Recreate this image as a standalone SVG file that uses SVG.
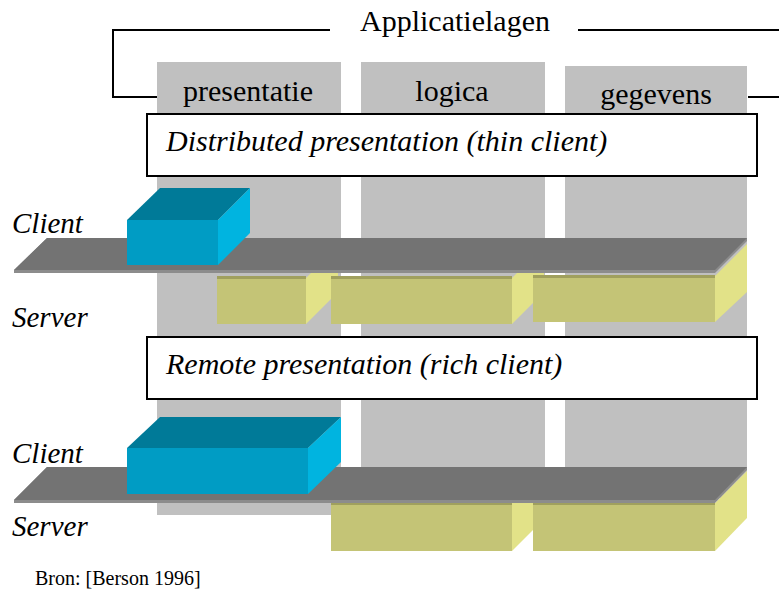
<svg xmlns="http://www.w3.org/2000/svg" width="779" height="593" viewBox="0 0 779 593">
<defs>
<style>
.col{fill:#c0c0c0}
.lbl{font-family:"Liberation Serif","Times New Roman",serif;font-size:30px;fill:#000}
.it{font-family:"Liberation Serif","Times New Roman",serif;font-style:italic;font-size:29px;fill:#000}
.tt{font-size:30px}
.box{fill:#fff;stroke:#000;stroke-width:2}
.line{fill:none;stroke:#000;stroke-width:2}
.plat{fill:#737373}
.platEdge{fill:#8c8c8c}
.cFront{fill:#009cc4}
.cTop{fill:#007a98}
.cSide{fill:#00b4e0}
.sFront{fill:#c4c476}
.sSide{fill:#e2e288}
.sTop{fill:#a0a05e}
</style>
</defs>
<rect width="779" height="593" fill="#fff"/>
<g id="columns">
<rect class="col" x="157" y="62" width="184" height="453"/>
<rect class="col" x="361" y="62" width="184" height="436"/>
<rect class="col" x="565" y="66" width="182" height="432"/>
</g>
<g id="header">
<polyline class="line" points="330,30 113,30 113,97 157,97"/>
<line class="line" x1="578" y1="30" x2="779" y2="30"/>
<line class="line" x1="748" y1="97" x2="779" y2="97"/>
<text class="lbl" x="455" y="31" text-anchor="middle">Applicatielagen</text>
<text class="lbl" x="248" y="101" text-anchor="middle">presentatie</text>
<text class="lbl" x="452" y="101" text-anchor="middle">logica</text>
<text class="lbl" x="656" y="104" text-anchor="middle">gegevens</text>
</g>
<g id="title1">
<rect class="box" x="147" y="114" width="610" height="62"/>
<text class="it tt" x="166" y="151">Distributed presentation (thin client)</text>
</g>
<g id="server1">
<polygon class="sSide" points="306,278 338,246 338,292 306,324"/>
<rect class="sFront" x="217" y="277" width="89" height="47"/>
<rect class="sTop" x="217" y="276" width="89" height="3"/>
<polygon class="sSide" points="512,278 544,246 544,292 512,324"/>
<rect class="sFront" x="331" y="277" width="181" height="47"/>
<rect class="sTop" x="331" y="276" width="181" height="3"/>
<polygon class="sSide" points="715,276 747,244 747,292 715,322"/>
<rect class="sFront" x="533" y="276" width="182" height="46"/>
<rect class="sTop" x="533" y="275" width="182" height="3"/>
</g>
<g id="platform1">
<polygon class="platEdge" points="47,238 747,238 747,241 715,273 14,273 14,270"/>
<polygon class="plat" points="47,238 747,238 715,270 14,270"/>
</g>
<g id="client1">
<polygon class="cTop" points="127,220 160,188 250,188 218,220"/>
<polygon class="cSide" points="218,220 250,188 250,233 218,265"/>
<rect class="cFront" x="127" y="220" width="91" height="45"/>
</g>
<text class="it" x="12" y="233">Client</text>
<text class="it" x="12" y="327">Server</text>
<g id="title2">
<rect class="box" x="147" y="337" width="610" height="62"/>
<text class="it tt" x="166" y="374">Remote presentation (rich client)</text>
</g>
<g id="server2">
<polygon class="sSide" points="512,503 544,471 544,519 512,551"/>
<rect class="sFront" x="331" y="503" width="181" height="48"/>
<rect class="sTop" x="331" y="502" width="181" height="3"/>
<polygon class="sSide" points="715,503 747,471 747,518 715,551"/>
<rect class="sFront" x="533" y="503" width="182" height="48"/>
<rect class="sTop" x="533" y="502" width="182" height="3"/>
</g>
<g id="platform2">
<polygon class="platEdge" points="47,467 747,467 747,470 715,503 14,503 14,500"/>
<polygon class="plat" points="47,467 747,467 715,500 14,500"/>
</g>
<g id="client2">
<polygon class="cTop" points="127,448 160,417 341,417 308,448"/>
<polygon class="cSide" points="308,448 341,417 341,462 308,494"/>
<rect class="cFront" x="127" y="448" width="181" height="46"/>
</g>
<text class="it" x="12" y="463">Client</text>
<text class="it" x="12" y="536">Server</text>
<text x="35" y="585" font-family="'Liberation Serif','Times New Roman',serif" font-size="20" fill="#000">Bron: [Berson 1996]</text>
</svg>
